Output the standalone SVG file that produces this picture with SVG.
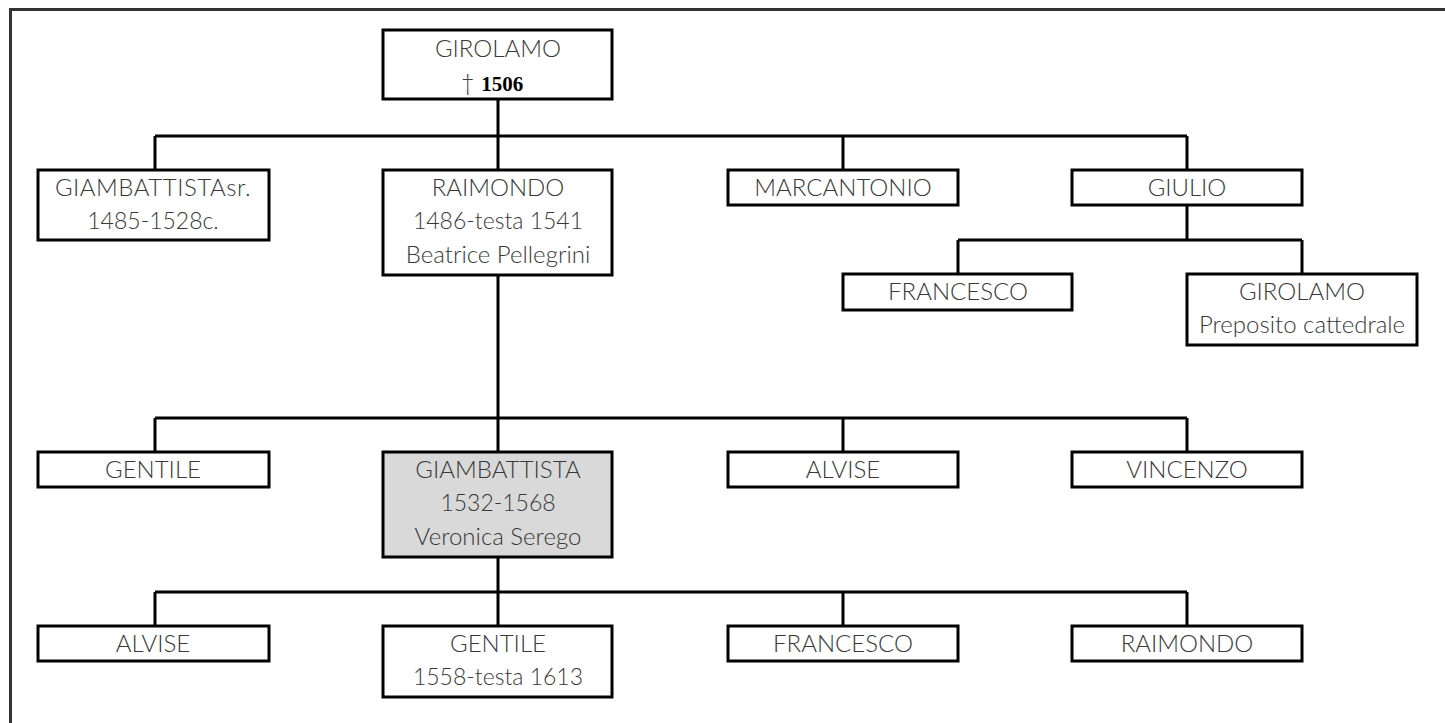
<svg xmlns="http://www.w3.org/2000/svg" width="1445" height="723" viewBox="0 0 1445 723">
<style>
.box{fill:#fff;stroke:#000;stroke-width:3}
.hl{fill:#d9d9d9}
.t{font-family:Lato,"Open Sans","Liberation Sans",sans-serif;font-weight:300;font-size:24px;fill:#383838;text-anchor:middle}
.n{font-size:23px}
.b{font-family:"Liberation Serif",serif;font-weight:bold;font-size:21px;fill:#000}
.c{fill:none;stroke:#000;stroke-width:3}
.frame{fill:none;stroke:#333;stroke-width:3}
</style>
<rect width="1445" height="723" fill="#fff"/>
<path class="frame" d="M10.5 723 V9.5 H1445"/>
<g id="connectors">
<path class="c" d="M498 99 V136 M155 136 H1187 M155 136 V170 M498 136 V170 M843 136 V170 M1187 136 V170"/>
<path class="c" d="M1187 205 V240 M958 240 H1302 M958 240 V274 M1302 240 V274"/>
<path class="c" d="M498 275 V452 M155 418 H1187 M155 418 V452 M843 418 V452 M1187 418 V452"/>
<path class="c" d="M498 557 V626 M155 592 H1187 M155 592 V626 M843 592 V626 M1187 592 V626"/>
</g>
<g id="n-girolamo">
<rect class="box" x="383" y="30" width="229" height="69"/>
<text class="t" x="498" y="57">GIROLAMO</text>
<text class="t" x="492" y="91">† <tspan class="b">1506</tspan></text>
</g>
<g id="n-giambattista-sr">
<rect class="box" x="38" y="170" width="231" height="70"/>
<text class="t" x="153" y="196" letter-spacing="0.5">GIAMBATTISTAsr.</text>
<text class="t n" x="153" y="229">1485-1528c.</text>
</g>
<g id="n-raimondo">
<rect class="box" x="383" y="170" width="229" height="105"/>
<text class="t" x="498" y="196">RAIMONDO</text>
<text class="t n" x="498" y="229">1486-testa 1541</text>
<text class="t" x="498" y="263">Beatrice Pellegrini</text>
</g>
<g id="n-marcantonio">
<rect class="box" x="728" y="170" width="230" height="35"/>
<text class="t" x="843" y="196">MARCANTONIO</text>
</g>
<g id="n-giulio">
<rect class="box" x="1072" y="170" width="230" height="35"/>
<text class="t" x="1187" y="196">GIULIO</text>
</g>
<g id="n-francesco-1">
<rect class="box" x="843" y="274" width="229" height="36"/>
<text class="t" x="958" y="300">FRANCESCO</text>
</g>
<g id="n-girolamo-2">
<rect class="box" x="1187" y="274" width="230" height="71"/>
<text class="t" x="1302" y="300">GIROLAMO</text>
<text class="t" x="1302" y="333">Preposito cattedrale</text>
</g>
<g id="n-gentile-1">
<rect class="box" x="38" y="452" width="231" height="35"/>
<text class="t" x="153" y="478">GENTILE</text>
</g>
<g id="n-giambattista">
<rect class="box hl" x="383" y="452" width="229" height="105"/>
<text class="t" x="498" y="478">GIAMBATTISTA</text>
<text class="t n" x="498" y="511">1532-1568</text>
<text class="t" x="498" y="545">Veronica Serego</text>
</g>
<g id="n-alvise-1">
<rect class="box" x="728" y="452" width="230" height="35"/>
<text class="t" x="843" y="478">ALVISE</text>
</g>
<g id="n-vincenzo">
<rect class="box" x="1072" y="452" width="230" height="35"/>
<text class="t" x="1187" y="478">VINCENZO</text>
</g>
<g id="n-alvise-2">
<rect class="box" x="38" y="626" width="231" height="35"/>
<text class="t" x="153" y="652">ALVISE</text>
</g>
<g id="n-gentile-2">
<rect class="box" x="383" y="626" width="229" height="71"/>
<text class="t" x="498" y="652">GENTILE</text>
<text class="t n" x="498" y="685">1558-testa 1613</text>
</g>
<g id="n-francesco-2">
<rect class="box" x="728" y="626" width="230" height="35"/>
<text class="t" x="843" y="652">FRANCESCO</text>
</g>
<g id="n-raimondo-2">
<rect class="box" x="1072" y="626" width="230" height="35"/>
<text class="t" x="1187" y="652">RAIMONDO</text>
</g>
</svg>
